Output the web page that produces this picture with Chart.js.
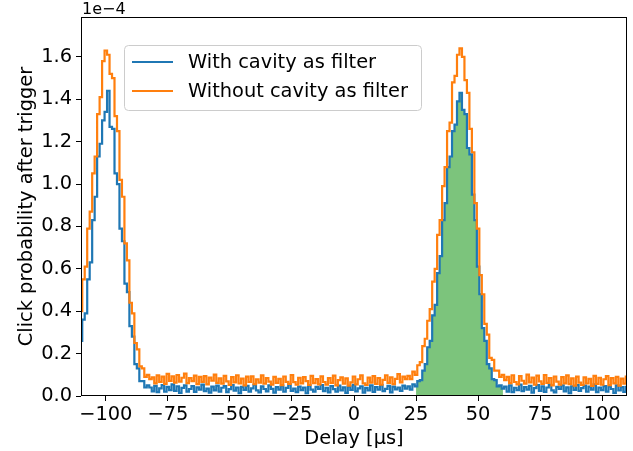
<!DOCTYPE html>
<html><head><meta charset="utf-8">
<script src="https://cdn.jsdelivr.net/npm/chart.js@4/dist/chart.umd.min.js"></script>
<style>html,body{margin:0;padding:0;background:#fff}#wrap{width:633px;height:451px;position:relative}</style>
</head><body><div id="wrap"><canvas id="c" width="633" height="451"></canvas></div>
<script>
// Histogram bins: centre of first bin and width (µs)
const delayStart = -110;
const binWidth = 1;
// Click probability after trigger, in units of 1e-4, one value per 1 µs bin (-110 … 110)
const withCavity = [
0.26,0.36,0.39,0.55,0.63,0.83,0.94,1.13,1.19,1.30,1.34,1.44,1.27,1.26,1.05,1.00,0.79,0.73,0.53,0.49,0.33,0.28,0.15,0.13,0.07,0.07,0.04,0.05,
0.040,0.022,0.048,0.018,0.036,0.052,0.020,0.043,0.028,0.055,
0.024,0.046,0.015,0.038,0.050,0.021,0.033,0.047,0.019,0.041,
0.030,0.054,0.023,0.035,0.016,0.044,0.027,0.049,0.020,0.039,
0.047,0.018,0.032,0.051,0.025,0.040,0.014,0.043,0.029,0.048,
0.021,0.036,0.053,0.027,0.017,0.045,0.033,0.022,0.050,0.034,
0.016,0.042,0.030,0.049,0.020,0.038,0.055,0.024,0.035,0.018,
0.044,0.028,0.040,0.013,0.050,0.030,0.021,0.043,0.034,0.052,
0.023,0.039,0.017,0.047,0.032,0.020,0.049,0.027,0.041,0.015,
0.045,0.029,0.053,0.022,0.036,0.046,0.016,0.038,0.026,0.050,
0.019,0.042,0.030,0.051,0.023,0.034,0.048,0.017,0.044,0.031,
0.040,0.024,0.049,0.035,
0.045,0.030,0.055,0.045,0.070,0.075,0.12,0.15,0.23,0.26,0.38,0.43,0.58,0.66,0.83,0.91,1.08,1.13,1.25,1.28,1.39,1.43,1.35,1.33,1.17,1.14,0.95,0.83,0.61,0.48,0.32,0.26,0.15,0.13,0.08,0.075,0.045,0.050,0.035,
0.044,0.021,0.050,0.018,0.039,0.028,0.054,0.023,0.042,0.030,
0.048,0.016,0.037,0.051,0.024,0.045,0.019,0.040,0.053,0.027,
0.017,0.043,0.033,0.050,0.022,0.041,0.014,0.046,0.029,0.052,
0.024,0.037,0.049,0.020,0.044,0.030,0.055,0.018,0.040,0.028,
0.047,0.021,0.045,0.033,0.015,0.050,0.026,0.042,0.019,0.043
];
const withoutCavity = [
0.40,0.55,0.61,0.79,0.87,1.05,1.13,1.33,1.41,1.58,1.63,1.61,1.52,1.50,1.32,1.25,1.02,0.94,0.72,0.64,0.44,0.39,0.25,0.22,0.14,0.13,0.09,0.10,0.08,
0.088,0.060,0.097,0.066,0.091,0.057,0.104,0.071,0.093,0.063,
0.099,0.068,0.086,0.106,0.061,0.084,0.070,0.096,0.056,0.090,
0.067,0.094,0.055,0.087,0.072,0.101,0.062,0.083,0.058,0.095,
0.069,0.052,0.089,0.064,0.098,0.059,0.082,0.050,0.091,0.066,
0.093,0.056,0.078,0.063,0.097,0.058,0.085,0.068,0.054,0.090,
0.062,0.081,0.051,0.092,0.067,0.057,0.099,0.065,0.053,0.086,
0.060,0.089,0.070,0.052,0.095,0.061,0.080,0.055,0.093,0.066,
0.054,0.084,0.062,0.096,0.050,0.075,0.088,0.058,0.083,0.049,
0.064,0.092,0.055,0.079,0.097,0.060,0.052,0.087,0.063,0.094,
0.057,0.085,0.053,0.076,0.098,0.062,0.088,0.056,0.081,0.103,
0.064,0.091,0.080,
0.095,0.08,0.115,0.10,0.145,0.16,0.235,0.27,0.355,0.41,0.54,0.60,0.76,0.83,0.99,1.08,1.25,1.29,1.48,1.51,1.61,1.64,1.60,1.49,1.43,1.26,1.15,0.91,0.79,0.57,0.48,0.34,0.29,0.18,0.17,0.12,0.12,0.09,0.10,0.075,
0.090,0.061,0.098,0.066,0.055,0.094,0.072,0.058,0.101,0.064,
0.087,0.053,0.096,0.069,0.057,0.099,0.062,0.085,0.050,0.092,
0.068,0.054,0.089,0.060,0.097,0.056,0.083,0.049,0.091,0.063,
0.052,0.088,0.059,0.081,0.048,0.095,0.057,0.086,0.053,0.079,
0.094,0.051,0.084,0.060,0.090,0.049,0.082,0.058,0.092
];
const seriesLabels = ['With cavity as filter', 'Without cavity as filter'];
const shadedRange = [25, 60];          // µs, shaded window under the filtered signal
const xTicks = [-100, -75, -50, -25, 0, 25, 50, 75, 100];
const yTicks = [0, 0.2, 0.4, 0.6, 0.8, 1.0, 1.2, 1.4, 1.6];
const yExponentLabel = '1e\u22124';

const FONT = 'DejaVu Sans';
const FS = 19.4;
const toPoints = arr => arr.map((v, i) => ({x: delayStart + i * binWidth, y: v}));
const bluePts = toPoints(withCavity);
const orangePts = toPoints(withoutCavity);
const shadePts = bluePts.filter(p => p.x >= shadedRange[0] && p.x <= shadedRange[1]);
const fmtX = v => (v < 0 ? '\u2212' : '') + Math.abs(v);

const framePlugin = {
  id: 'frame',
  afterDraw(chart) {
    const {ctx, chartArea: a} = chart;
    ctx.save();
    ctx.strokeStyle = '#000';
    ctx.lineWidth = 1;
    const l = Math.round(a.left) + 0.5, r = Math.round(a.right) - 0.5;
    const t = Math.round(a.top) + 0.5, b = Math.round(a.bottom) - 0.5;
    ctx.strokeRect(l, t, r - l, b - t);
    // exponent label
    ctx.fillStyle = '#000';
    ctx.font = '16px "' + FONT + '"';
    ctx.textAlign = 'left';
    ctx.textBaseline = 'alphabetic';
    ctx.fillText(yExponentLabel, a.left + 1, a.top - 3);
    // legend
    const lx = a.left + 43, ly = a.top + 28, lw = 297, lh = 65;
    ctx.beginPath();
    ctx.roundRect(lx + 0.5, ly + 0.5, lw, lh, 4);
    ctx.fillStyle = 'rgba(255,255,255,0.8)';
    ctx.fill();
    ctx.strokeStyle = '#cccccc';
    ctx.stroke();
    ctx.font = FS + 'px "' + FONT + '"';
    const colors = ['#1f77b4', '#ff7f0e'];
    seriesLabels.forEach((lab, i) => {
      const y = ly + 17 + i * 29;
      ctx.beginPath();
      ctx.strokeStyle = colors[i];
      ctx.lineWidth = 2;
      ctx.moveTo(lx + 8, y);
      ctx.lineTo(lx + 49, y);
      ctx.stroke();
      ctx.fillStyle = '#000';
      ctx.textBaseline = 'middle';
      ctx.fillText(lab, lx + 64, y + 1);
    });
    ctx.restore();
  }
};

new Chart(document.getElementById('c'), {
  type: 'line',
  data: {
    datasets: [
      {label: seriesLabels[1], data: orangePts, borderColor: '#ff7f0e', borderWidth: 2.2, pointRadius: 0, stepped: 'middle', fill: false, order: 0},
      {label: seriesLabels[0], data: bluePts, borderColor: '#1f77b4', borderWidth: 2.2, pointRadius: 0, stepped: 'middle', fill: false, order: 1},
      {label: 'shaded', data: shadePts, borderWidth: 0, borderColor: 'rgba(0,0,0,0)', backgroundColor: 'rgba(44,160,44,0.62)', pointRadius: 0, stepped: 'middle', fill: 'origin', order: 2}
    ]
  },
  options: {
    responsive: false,
    animation: false,
    devicePixelRatio: 1,
    layout: {padding: {top: 17, right: 6, left: 0, bottom: 0}},
    plugins: {legend: {display: false}, tooltip: {enabled: false}},
    scales: {
      x: {
        type: 'linear', min: -110, max: 110,
        afterBuildTicks: s => { s.ticks = xTicks.map(v => ({value: v})); },
        afterFit: s => { s.height = 55; },
        ticks: {callback: v => fmtX(v), color: '#000', font: {family: FONT, size: FS}, maxRotation: 0, autoSkip: false, padding: 2},
        grid: {drawOnChartArea: false, tickLength: 5, tickColor: '#000', tickWidth: 1},
        border: {display: false},
        title: {display: true, text: 'Delay [\u03bcs]', color: '#000', font: {family: FONT, size: FS}, padding: {top: 0, bottom: 0}}
      },
      y: {
        type: 'linear', min: 0, max: 1.788,
        afterBuildTicks: s => { s.ticks = yTicks.map(v => ({value: v})); },
        afterFit: s => { s.width = 81; },
        ticks: {callback: v => v.toFixed(1), color: '#000', font: {family: FONT, size: FS}, padding: 4},
        grid: {drawOnChartArea: false, tickLength: 5, tickColor: '#000', tickWidth: 1},
        border: {display: false},
        title: {display: true, text: 'Click probability after trigger', color: '#000', font: {family: FONT, size: FS}, padding: {top: 15, bottom: 0}}
      }
    }
  },
  plugins: [framePlugin]
});
</script></body></html>
